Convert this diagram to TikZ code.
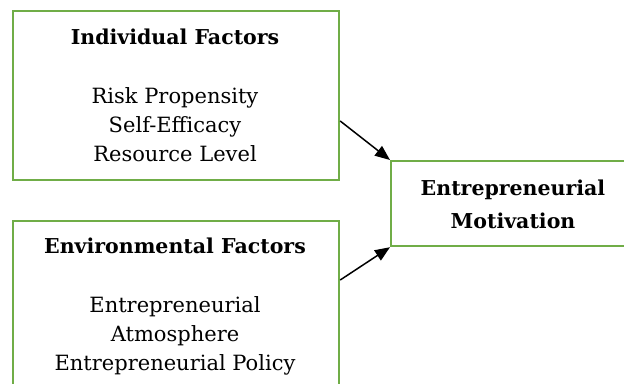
\documentclass[tikz,border=0pt]{standalone}
\usepackage{fontspec}
\setmainfont{DejaVu Serif}
\usetikzlibrary{arrows.meta,calc}
\definecolor{boxgreen}{RGB}{112,173,71}
\tikzset{
  box/.style={draw=boxgreen, line width=2.2pt, fill=white, inner sep=0pt, anchor=north west},
  txt/.style={anchor=base, inner sep=0pt, font=\fontsize{21}{25}\selectfont},
  ttl/.style={anchor=base, inner sep=0pt, font=\fontsize{20.5}{25}\selectfont\bfseries},
  arr/.style={line width=1.5pt, -{Triangle[length=15pt,width=12pt]}},
}
\begin{document}
\begin{tikzpicture}[x=1pt,y=-1pt]
\useasboundingbox (0,0) rectangle (624,383);
\clip (0,0) rectangle (624,383);
\node[box, minimum width=326pt, minimum height=169pt] (ind) at (12,10) {};
\node[box, minimum width=326pt, minimum height=180pt] (env) at (12,220) {};
\node[box, minimum width=250pt, minimum height=85pt] (mot) at (390,160) {};
\node[ttl] (t1) at (175,44) {Individual Factors};
\node[txt] (t2) at (175,103) {Risk Propensity};
\node[txt] (t3) at (175,132) {Self-Efficacy};
\node[txt] (t4) at (175,161) {Resource Level};
\node[ttl] (t5) at (175,253) {Environmental Factors};
\node[txt] (t6) at (175,312) {Entrepreneurial};
\node[txt] (t7) at (175,341) {Atmosphere};
\node[txt] (t8) at (175,370) {Entrepreneurial Policy};
\node[ttl] (t9) at (513,195) {Entrepreneurial};
\node[ttl] (t10) at (513,228) {Motivation};
\draw[arr] ([yshift=-111pt]ind.north east) -- (mot.north west);
\draw[arr] ([yshift=-60pt]env.north east) -- (mot.south west);
\end{tikzpicture}
\end{document}
